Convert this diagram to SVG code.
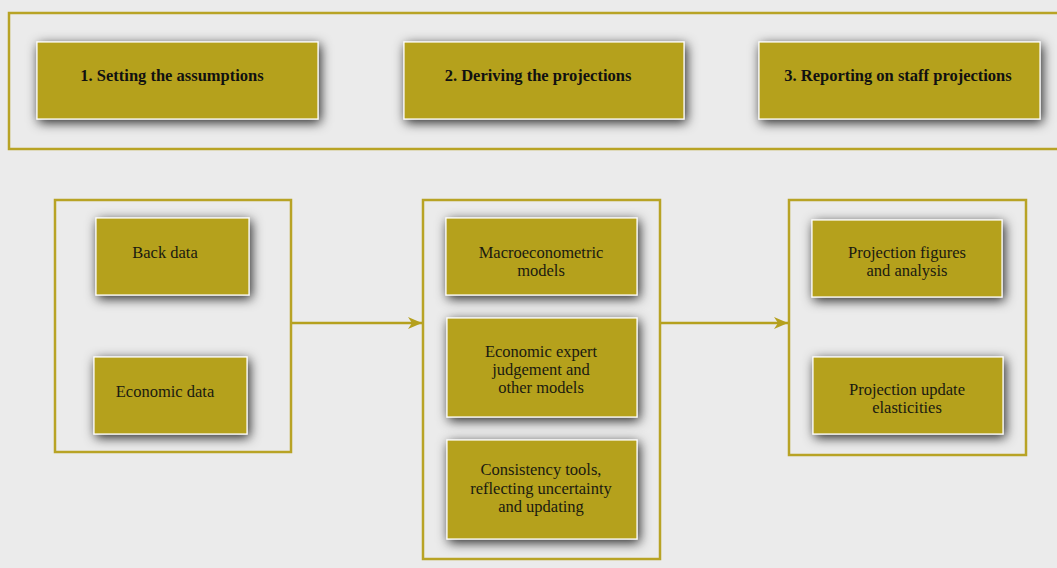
<svg xmlns="http://www.w3.org/2000/svg" width="1057" height="568" viewBox="0 0 1057 568">
<defs>
<filter id="sh" x="-30%" y="-50%" width="160%" height="200%">
<feDropShadow dx="2" dy="3" stdDeviation="6" flood-color="#000" flood-opacity="0.85"/>
</filter>
<marker id="ah" viewBox="0 0 14 12" refX="14" refY="6" markerWidth="14" markerHeight="12" markerUnits="userSpaceOnUse" orient="auto">
<path d="M0,0 L14,6 L0,12 L4,6 Z" fill="#b5a01d"/>
</marker>
<style>
.frame{fill:none;stroke:#b8a325;stroke-width:2.5}
.box{fill:#b5a11b;stroke:#ffffff;stroke-width:1.2;filter:url(#sh)}
.t{font-family:"Liberation Serif","Times New Roman",serif;font-size:16.5px;fill:#1a1a10;text-anchor:middle}
.h{font-family:"Liberation Serif","Times New Roman",serif;font-size:16.5px;font-weight:bold;fill:#111;text-anchor:middle}
.conn{stroke:#b5a01d;stroke-width:2.5;fill:none}
</style>
</defs>
<rect width="1057" height="568" fill="#ebebeb"/>
<rect class="frame" x="9" y="13" width="1060" height="136"/>
<g id="h1"><rect class="box" x="37" y="42" width="281" height="77"/><text class="h" x="172" y="81">1. Setting the assumptions</text></g>
<g id="h2"><rect class="box" x="404" y="42" width="280" height="77"/><text class="h" x="538" y="81">2. Deriving the projections</text></g>
<g id="h3"><rect class="box" x="759" y="42" width="281" height="77"/><text class="h" x="898" y="81">3. Reporting on staff projections</text></g>

<g id="c1"><rect class="frame" x="55" y="200" width="236" height="252"/></g>
<g id="c2"><rect class="frame" x="423" y="200" width="237" height="359"/></g>
<g id="c3"><rect class="frame" x="789" y="200" width="237" height="255"/></g>

<g id="n1"><rect class="box" x="96" y="218" width="153" height="77"/><text class="t" x="165" y="258">Back data</text></g>
<g id="n2"><rect class="box" x="94" y="357" width="153" height="77"/><text class="t" x="165" y="397">Economic data</text></g>
<g id="n3"><rect class="box" x="446" y="218" width="191" height="77"/><text class="t" x="541" y="258">Macroeconometric</text><text class="t" x="541" y="276">models</text></g>
<g id="n4"><rect class="box" x="447" y="318" width="190" height="99"/><text class="t" x="541" y="357">Economic expert</text><text class="t" x="541" y="375">judgement and</text><text class="t" x="541" y="393">other models</text></g>
<g id="n5"><rect class="box" x="447" y="440" width="190" height="99"/><text class="t" x="541" y="475">Consistency tools,</text><text class="t" x="541" y="494">reflecting uncertainty</text><text class="t" x="541" y="512">and updating</text></g>
<g id="n6"><rect class="box" x="812" y="220" width="190" height="77"/><text class="t" x="907" y="258">Projection figures</text><text class="t" x="907" y="276">and analysis</text></g>
<g id="n7"><rect class="box" x="813" y="357" width="190" height="77"/><text class="t" x="907" y="395">Projection update</text><text class="t" x="907" y="413">elasticities</text></g>

<g id="connectors">
<line class="conn" x1="292" y1="323" x2="422" y2="323" marker-end="url(#ah)"/>
<line class="conn" x1="661" y1="323" x2="788" y2="323" marker-end="url(#ah)"/>
</g>
</svg>
